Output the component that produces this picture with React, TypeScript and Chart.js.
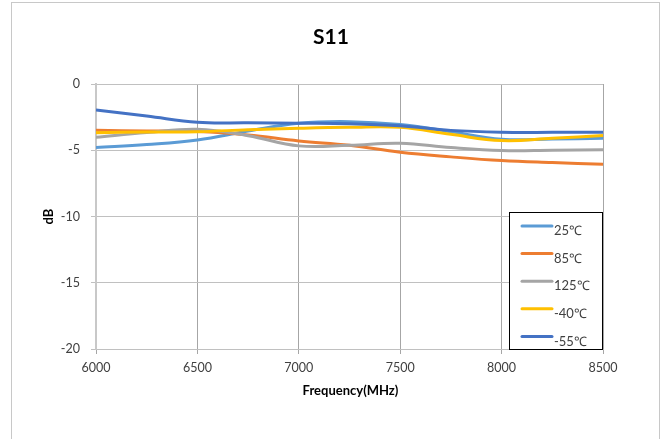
import React, { useEffect, useRef } from "react";
import { Chart, registerables } from "chart.js";

Chart.register(...registerables);

const frequencies = [6000, 6250, 6500, 6750, 7000, 7250, 7500, 7750, 8000, 8250, 8500];
const s11_25C = [-4.8, -4.57, -4.22, -3.55, -2.96, -2.84, -3.06, -3.6, -4.17, -4.15, -4.09];
const s11_85C = [-3.49, -3.55, -3.59, -3.85, -4.3, -4.62, -5.15, -5.5, -5.78, -5.93, -6.05];
const s11_125C = [-4.02, -3.67, -3.42, -3.9, -4.67, -4.62, -4.47, -4.8, -5.02, -5.0, -4.97];
const s11_m40C = [-3.67, -3.62, -3.6, -3.45, -3.34, -3.27, -3.27, -3.8, -4.27, -4.1, -3.89];
const s11_m55C = [-1.96, -2.41, -2.89, -2.93, -2.96, -3.0, -3.16, -3.5, -3.64, -3.65, -3.64];

const seriesLabels = ["25℃", "85℃", "125℃", "-40℃", "-55℃"];
const seriesValues = [s11_25C, s11_85C, s11_125C, s11_m40C, s11_m55C];
const seriesColors = ["#5B9BD5", "#ED7D31", "#A5A5A5", "#FFC000", "#4472C4"];

const xMin = 6000;
const xMax = 8500;
const xStep = 500;
const yMin = -20;
const yMax = 0;
const yStep = 5;

const chartTitle = "S11";
const xTitle = "Frequency(MHz)";
const yTitle = "dB";

const FONT = "Lato, 'Open Sans', sans-serif";

const decorPlugin = {
  id: "decor",
  beforeDraw(chart: any) {
    const ctx = chart.ctx;
    ctx.save();
    ctx.fillStyle = "#ffffff";
    ctx.fillRect(0, 0, chart.width, chart.height);
    ctx.strokeStyle = "#c8c8c8";
    ctx.lineWidth = 1;
    ctx.strokeRect(11.5, 2.5, 648, 480);
    ctx.restore();
  },
  afterDraw(chart: any) {
    const ctx = chart.ctx;
    const area = chart.chartArea;
    ctx.save();
    // title
    ctx.fillStyle = "#000000";
    ctx.textAlign = "center";
    ctx.textBaseline = "middle";
    ctx.font = `bold 21px ${FONT}`;
    ctx.fillText(chartTitle, 331, 37);
    // x title
    ctx.font = `bold 13px ${FONT}`;
    ctx.fillText(xTitle, (area.left + area.right) / 2 + 1, 391);
    // y title
    ctx.save();
    ctx.translate(49, (area.top + area.bottom) / 2);
    ctx.rotate(-Math.PI / 2);
    ctx.fillText(yTitle, 0, 0);
    ctx.restore();

    // legend
    const bw = 93;
    const bh = 137;
    const bx = Math.round(area.right) - bw - 1;
    const by = Math.round(area.bottom) - bh;
    ctx.fillStyle = "#ffffff";
    ctx.fillRect(bx, by, bw, bh);
    ctx.strokeStyle = "#000000";
    ctx.lineWidth = 1;
    ctx.strokeRect(bx + 0.5, by + 0.5, bw, bh);
    ctx.font = `13px ${FONT}`;
    ctx.textAlign = "left";
    ctx.textBaseline = "middle";
    chart.data.datasets.forEach((ds: any, i: number) => {
      const yy = by + 14 + i * 27.6;
      ctx.strokeStyle = ds.borderColor;
      ctx.lineWidth = 3;
      ctx.lineCap = "round";
      ctx.beginPath();
      ctx.moveTo(bx + 13, yy);
      ctx.lineTo(bx + 43, yy);
      ctx.stroke();
      ctx.fillStyle = "#404040";
      ctx.fillText(ds.label, bx + 45, yy + 5);
    });
    ctx.restore();
  },
};

export default function App() {
  const canvasRef = useRef<HTMLCanvasElement | null>(null);

  useEffect(() => {
    const canvas = canvasRef.current;
    if (!canvas) return;
    const chart = new Chart(canvas, {
      type: "line",
      data: {
        datasets: seriesLabels.map((label, i) => ({
          label,
          data: frequencies.map((f, j) => ({ x: f, y: seriesValues[i][j] })),
          borderColor: seriesColors[i],
          backgroundColor: seriesColors[i],
          borderWidth: 3,
          pointRadius: 0,
          tension: 0.4,
          fill: false,
          order: seriesLabels.length - i,
        })),
      },
      options: {
        animation: false,
        responsive: false,
        devicePixelRatio: 1,
        layout: { padding: { left: 0, right: 64, top: 84, bottom: 0 } },
        plugins: {
          legend: { display: false },
          title: { display: false },
          tooltip: { enabled: false },
        },
        scales: {
          x: {
            type: "linear",
            min: xMin,
            max: xMax,
            ticks: {
              stepSize: xStep,
              font: { family: FONT, size: 12.5 },
              color: "#404040",
              padding: 6,
              callback: (v: any) => String(v),
            },
            grid: { color: "#a6a6a6", tickLength: 5, lineWidth: 1 },
            border: { color: "#c0c0c0", width: 1 },
            afterFit: (s: any) => {
              s.height = 90;
            },
          },
          y: {
            type: "linear",
            min: yMin,
            max: yMax,
            ticks: {
              stepSize: yStep,
              font: { family: FONT, size: 12.5 },
              color: "#404040",
              padding: 11,
            },
            grid: { color: "#c0c0c0", tickLength: 5, lineWidth: 1 },
            border: { color: "#c8c8c8", width: 2 },
            afterFit: (s: any) => {
              s.width = 96;
            },
          },
        },
      },
      plugins: [decorPlugin],
    });
    return () => chart.destroy();
  }, []);

  return (
    <div style={{ position: "fixed", left: 0, top: 0, width: 667, height: 439, background: "#fff" }}>
      <canvas ref={canvasRef} width={667} height={439} style={{ display: "block" }} />
    </div>
  );
}
